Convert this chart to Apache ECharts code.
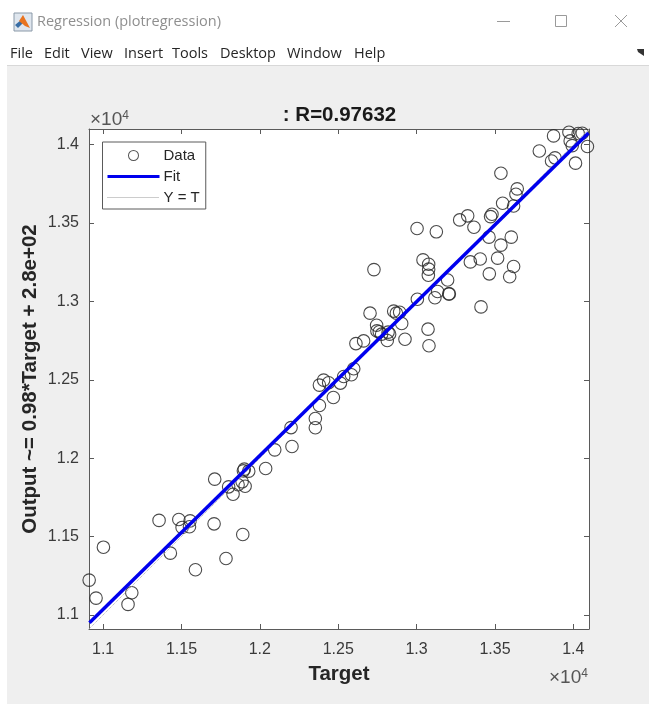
<!DOCTYPE html>
<html><head><meta charset="utf-8">
<style>html,body{margin:0;padding:0;background:#fff}#c{width:649px;height:704px}</style>
<script src="https://cdn.jsdelivr.net/npm/echarts@6/dist/echarts.min.js"></script>
</head><body><div id="c"></div>
<script>
const chartTitle = ': R=0.97632';
const windowTitle = 'Regression (plotregression)';
const menuItems = [['File',10],['Edit',44],['View',81],['Insert',124],['Tools',172],['Desktop',220],['Window',287],['Help',354]];
const xLabel = 'Target';
const yLabel = 'Output ~= 0.98*Target + 2.8e+02';
const tickValuesX = [11000,11500,12000,12500,13000,13500,14000];
const tickValuesY = [11000,11500,12000,12500,13000,13500,14000];
const axisMin = 10910, axisMax = 14100;
const targets = [10911,10955,11002,11159,11183,11357,11429,11483,11504,11551,11555,11589,11708,11712,11784,11801,11829,11861,11887,11906,11891,11895,11901,11929,12037,12095,12199,12205,12354,12354,12380,12380,12407,12439,12469,12514,12535,12584,12599,12613,12662,12703,12728,12745,12747,12762,12777,12818,12828,12813,12854,12871,12892,12905,12926,13003,13005,13041,13077,13077,13075,13073,13079,13117,13134,13126,13198,13205,13209,13275,13326,13343,13366,13406,13411,13462,13464,13472,13481,13517,13538,13549,13538,13594,13604,13619,13619,13634,13642,13783,13861,13883,13874,13972,13980,13993,14014,14031,14057,14090];
const outputs = [11222,11107,11432,11067,11141,11603,11394,11609,11558,11562,11600,11288,11581,11866,11360,11817,11770,11830,11849,11821,11513,11919,11930,11917,11934,12053,12195,12074,12253,12194,12336,12466,12498,12481,12387,12479,12521,12532,12570,12731,12748,12925,13203,12848,12812,12806,12791,12804,12791,12751,12938,12925,12931,12859,12759,13465,13014,13265,13237,13206,13167,12823,12717,13023,13063,13444,13137,13048,13048,13520,13546,13252,13473,13271,12965,13410,13176,13541,13556,13276,13359,13626,13818,13157,13410,13223,13609,13684,13718,13960,13896,13916,14056,14079,14024,13994,13882,14071,14073,13988];
const fitX = [10913,14097];
const fitY = [10950,14075];
const identity = [10910,14100];

const chart = echarts.init(document.getElementById('c'));
const fontA = '"Liberation Sans", Arial, sans-serif';
const fontUi = '"Open Sans", "Noto Sans", sans-serif';
const axisColor = '#5a5a5a', labelColor = '#3a3a3a';
const fmt = v => String(v/10000);

function axis(pos, ticks, show, extra, margin){
  return Object.assign({
    type:'value', position:pos, min:axisMin, max:axisMax, scale:true,
    splitLine:{show:false},
    axisLine:{show:true, onZero:false, lineStyle:{color:axisColor,width:1}},
    axisTick:{show:true, inside:true, length:5, customValues:ticks, lineStyle:{color:axisColor}},
    axisLabel:{show:show, customValues:ticks, formatter:fmt, fontFamily:fontA, fontSize:16, color:labelColor, margin:margin||0}
  }, extra||{});
}
const G = {left:89, top:129, width:500, height:500};

// legend glyphs: the two zero-area subpaths fix the icon box at 52x17
const iconBox = 'M0 0H52ZM0 17H52Z';
const iconData = 'path://'+iconBox+'M20.5 8.5a5.5 5.5 0 1 1 11 0a5.5 5.5 0 1 1 -11 0ZM21.5 8.5a4.5 4.5 0 1 0 9 0a4.5 4.5 0 1 0 -9 0Z';
const iconFit = 'path://'+iconBox+'M0 7H52V10H0Z';
let dots = '';
for (let i=0;i<26;i++) dots += 'M'+(i*2)+' 8H'+(i*2+1)+'V9H'+(i*2)+'Z';
const iconIdentity = 'path://'+iconBox+dots;

const expRich = {a:{fontFamily:fontA,fontSize:19,fill:'#555'},s:{fontFamily:fontA,fontSize:12,fill:'#555',verticalAlign:'top',padding:[0,0,8,0]}};

chart.setOption({
  animation:false,
  backgroundColor:'#fff',
  title:{text:chartTitle, left:334.5, top:100, textAlign:'center',
    textStyle:{fontFamily:fontA,fontWeight:'bold',fontSize:20.5,color:'#1a1a1a'}},
  grid:G,
  legend:{
    left:102.5, top:142, orient:'vertical', align:'left',
    padding:[5,6,3,5], itemGap:4, itemWidth:52, itemHeight:17,
    backgroundColor:'#fff', borderColor:'#5a5a5a', borderWidth:1, borderRadius:0,
    textStyle:{fontFamily:fontA,fontSize:15,color:'#262626',padding:[0,0,0,-1]},
    data:[
      {name:'Data',icon:iconData,itemStyle:{color:'#555',borderWidth:0,opacity:1}},
      {name:'Fit',icon:iconFit,itemStyle:{color:'#0000ee',borderWidth:0}},
      {name:'Y = T',icon:iconIdentity,itemStyle:{color:'#999',borderWidth:0}}
    ]
  },
  xAxis:[
    axis('bottom',tickValuesX,true,{name:xLabel,nameLocation:'middle',nameGap:35,
      nameTextStyle:{fontFamily:fontA,fontWeight:'bold',fontSize:20.5,color:'#262626'}},13),
    axis('top',tickValuesX,false)
  ],
  yAxis:[
    axis('left',tickValuesY,true,{name:yLabel,nameLocation:'middle',nameGap:48,nameMoveOverlap:false,
      nameTextStyle:{fontFamily:fontA,fontWeight:'bold',fontSize:20.5,color:'#262626'}},10),
    axis('right',tickValuesY,false)
  ],
  series:[
    {name:'Data',type:'scatter',clip:false,symbol:'circle',symbolSize:12.5,z:2,
      itemStyle:{color:'transparent',borderColor:'#2a2a2a',borderWidth:1.1,opacity:.85},
      data:targets.map((t,i)=>[t,outputs[i]])},
    {name:'Y = T',type:'line',symbol:'none',z:3,
      lineStyle:{color:'#aaa',width:1,type:'dotted'},itemStyle:{color:'#aaa'},
      data:identity.map(v=>[v,v])},
    {name:'Fit',type:'line',symbol:'none',z:4,
      lineStyle:{color:'#0000ee',width:3.5},itemStyle:{color:'#0000ee'},
      data:fitX.map((v,i)=>[v,fitY[i]])}
  ],
  graphic:[
    {type:'rect',silent:true,z:-10,shape:{x:7,y:66,width:642,height:638},style:{fill:'#efefef'}},
    {type:'line',silent:true,z:-9,shape:{x1:7,y1:65.5,x2:649,y2:65.5},style:{stroke:'#d8d8d8',lineWidth:1}},
    {type:'rect',silent:true,z:-8,shape:{x:89,y:129,width:500,height:500},style:{fill:'#fff'}},
    // window icon
    {type:'rect',silent:true,shape:{x:14,y:13,width:18,height:18},style:{fill:'#dfe6ee',stroke:'#8a99a8',lineWidth:1}},
    {type:'polygon',silent:true,shape:{points:[[15,25],[21,20],[24,22],[18,28]]},style:{fill:'#3a6ea5'}},
    {type:'polygon',silent:true,shape:{points:[[23,15],[30,28],[25,26],[19,21]]},style:{fill:'#e8731f'}},
    {type:'text',silent:true,x:37,y:22,style:{text:windowTitle,font:'14.5px '+fontUi,fill:'#8f8f8f',verticalAlign:'middle'}},
    // window buttons
    {type:'line',silent:true,shape:{x1:497,y1:21.5,x2:510,y2:21.5},style:{stroke:'#9a9a9a',lineWidth:1}},
    {type:'rect',silent:true,shape:{x:555.5,y:15.5,width:11,height:11},style:{fill:'none',stroke:'#9a9a9a',lineWidth:1}},
    {type:'line',silent:true,shape:{x1:615,y1:15,x2:627,y2:27},style:{stroke:'#9a9a9a',lineWidth:1}},
    {type:'line',silent:true,shape:{x1:627,y1:15,x2:615,y2:27},style:{stroke:'#9a9a9a',lineWidth:1}},
    ...menuItems.map(m=>({type:'text',silent:true,x:m[1],y:54,style:{text:m[0],font:'14.5px '+fontUi,fill:'#262626',verticalAlign:'middle'}})),
    {type:'polygon',silent:true,shape:{points:[[637,49],[644,49],[644,56],[641,54],[638,52]]},style:{fill:'#333'}},
    // exponents
    {type:'text',silent:true,x:90,y:120,style:{rich:expRich,text:'{a|×10}{s|4}',verticalAlign:'middle'}},
    {type:'text',silent:true,x:549,y:678,style:{rich:expRich,text:'{a|×10}{s|4}',verticalAlign:'middle'}}
  ]
});
</script></body></html>
